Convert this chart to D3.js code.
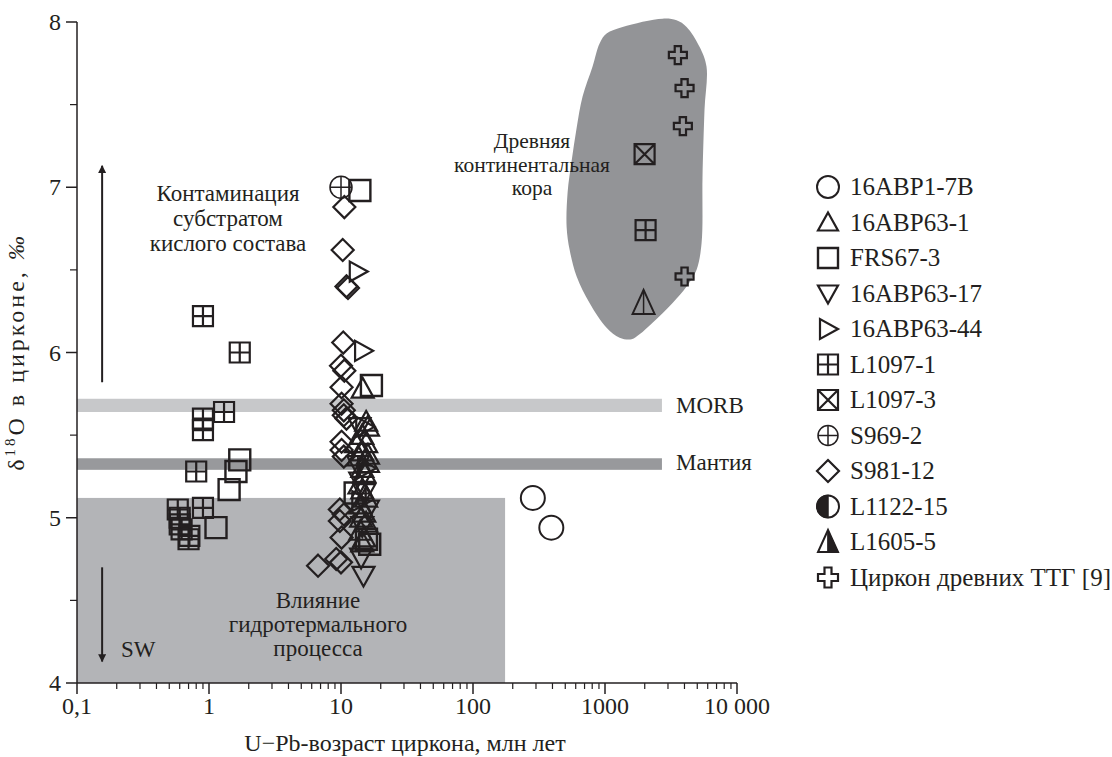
<!DOCTYPE html>
<html><head><meta charset="utf-8">
<script src="https://cdn.jsdelivr.net/npm/d3@7"></script>
<style>
body{margin:0;background:#fff;}
text{font-family:"Liberation Serif","DejaVu Serif",serif;fill:#231f20;}
</style></head>
<body><svg id="c" width="1112" height="757"></svg>
<script>
// ---- data ----
const xTicks = [0.1, 1, 10, 100, 1000, 10000];
const xTickLabels = ["0,1", "1", "10", "100", "1000", "10 000"];
const yTicks = [4, 5, 6, 7, 8];

const s16ABP1_7B = [[284, 5.12], [392, 4.94]];
const s16ABP63_1 = [[14.6,5.78],[15.5,5.58],[16,5.55],[14.5,5.50],[15.5,5.45],[13,5.45],[14.5,5.40],[13.5,5.37],[16,5.38],[16,5.33],[14.5,5.30],[15,5.27],[13.8,5.20],[14.5,5.17],[15.5,5.12],[14,5.08],[15,5.03],[14.2,5.00],[15.5,4.97],[14,4.92],[15,4.88],[14.5,4.85]];
const sFRS67_3 = [[1.71,5.35],[1.6,5.28],[1.42,5.17],[1.13,4.94],[13.9,6.98],[17,5.80],[12.8,5.15],[15.6,4.87],[16.5,4.84]];
const s16ABP63_17 = [[14.8,4.65],[14.2,4.76],[14,5.22],[15,5.15],[13.5,5.32],[16,5.05],[14.5,4.95],[13.8,5.55]];
const s16ABP63_44 = [[13.4,6.49],[14.7,6.01],[15,5.55],[15.5,5.30],[14,5.10]];
const sL1097_1 = [[0.90,6.22],[1.71,6.00],[1.30,5.64],[0.90,5.60],[0.90,5.53],[0.80,5.28],[0.58,5.05],[0.60,5.00],[0.60,4.96],[0.62,4.93],[0.90,5.06],[0.71,4.89],[0.70,4.87],[2030,6.74]];
const sL1097_3 = [[1995, 7.20]];
const sS969_2 = [[10, 7.0]];
const sS981_12 = [[10.6,6.88],[10.3,6.62],[11.3,6.39],[11.0,6.40],[10.4,6.06],[10,5.92],[10.6,5.89],[10.1,5.79],[10.1,5.69],[10.5,5.65],[10.5,5.62],[11,5.60],[10.1,5.46],[10.1,5.41],[10.5,5.37],[9.8,5.05],[10.5,5.02],[9.8,4.98],[10.1,4.88],[9.2,4.75],[10,4.73],[6.7,4.71]];
const sL1122_15 = [];
const sL1605_5 = [[1960, 6.30]];
const sTTG = [[3565,7.80],[4006,7.60],[3890,7.37],[4006,6.46]];

// fields
const hydroBox = {x0: 0.1, x1: 175, y0: 4, y1: 5.12};
const morbBand = {x0: 0.1, x1: 2700, y0: 5.64, y1: 5.72};
const mantleBand = {x0: 0.1, x1: 2700, y0: 5.29, y1: 5.36};
const crustBlob = [[2729,8.02],[1359,7.97],[1028,7.93],[910,7.87],[805,7.73],[677,7.55],[610,7.36],[559,7.16],[521,6.97],[512,6.76],[540,6.62],[610,6.46],[764,6.30],[1028,6.15],[1290,6.09],[1590,6.08],[1827,6.11],[2293,6.18],[3251,6.30],[4150,6.40],[4933,6.50],[5387,6.66],[5480,7.06],[5675,7.47],[5875,7.73],[5200,7.85],[4150,7.97],[3484,8.01]];

const legendNames = ["16ABP1-7B","16ABP63-1","FRS67-3","16ABP63-17","16ABP63-44","L1097-1","L1097-3","S969-2","S981-12","L1122-15","L1605-5","Циркон древних ТТГ [9]"];
const legendTypes = ["circle","triUp","square","triDown","triRight","gridSquare","xSquare","plusCircle","diamond","halfCircle","halfTri","cross"];
const seriesData = [s16ABP1_7B,s16ABP63_1,sFRS67_3,s16ABP63_17,s16ABP63_44,sL1097_1,sL1097_3,sS969_2,sS981_12,sL1122_15,sL1605_5,sTTG];

// ---- chart ----
const svg = d3.select("#c");
const x = d3.scaleLog().domain([0.1, 10000]).range([77, 737]);
const y = d3.scaleLinear().domain([4, 8]).range([683, 22]);
const ink = "#231f20";
const FS_TICK = 24, FS_TITLE = 24, FS_NOTE = 23, FS_LEG = 25;

function rect(b, fill){
  svg.append("rect").attr("x", x(b.x0)).attr("y", y(b.y1))
    .attr("width", x(b.x1)-x(b.x0)).attr("height", y(b.y0)-y(b.y1)).attr("fill", fill);
}
rect(hydroBox, "#b3b4b7");
rect(morbBand, "#c7c8ca");
rect(mantleBand, "#98999c");
svg.append("path").datum(crustBlob)
  .attr("d", d3.line().x(d=>x(d[0])).y(d=>y(d[1])).curve(d3.curveCatmullRomClosed))
  .attr("fill", "#939497");

// axes
const xAxis = svg.append("g").attr("transform","translate(0,683)");
xAxis.append("line").attr("x1",x(0.1)).attr("x2",x(10000)).attr("stroke",ink).attr("stroke-width",1.5);
const minorX = [];
for (let d = 0.1; d < 10000; d *= 10) for (let k = 2; k <= 9; k++) minorX.push(d*k);
xAxis.selectAll(".mx").data(minorX).enter().append("line")
  .attr("x1",d=>x(d)).attr("x2",d=>x(d)).attr("y1",0).attr("y2",6).attr("stroke",ink).attr("stroke-width",1.2);
xAxis.selectAll(".Mx").data(xTicks).enter().append("line")
  .attr("x1",d=>x(d)).attr("x2",d=>x(d)).attr("y1",0).attr("y2",11).attr("stroke",ink).attr("stroke-width",1.5);
xAxis.selectAll(".lx").data(xTicks).enter().append("text")
  .attr("x",d=>x(d)).attr("y",31).attr("text-anchor","middle").attr("font-size",FS_TICK)
  .text((d,i)=>xTickLabels[i]);

const yAxis = svg.append("g").attr("transform","translate(77,0)");
yAxis.append("line").attr("y1",y(4)).attr("y2",y(8)).attr("stroke",ink).attr("stroke-width",1.5);
const minorY = [4.5,5.5,6.5,7.5];
yAxis.selectAll(".my").data(minorY).enter().append("line")
  .attr("y1",d=>y(d)).attr("y2",d=>y(d)).attr("x1",0).attr("x2",-7).attr("stroke",ink).attr("stroke-width",1.2);
yAxis.selectAll(".My").data(yTicks).enter().append("line")
  .attr("y1",d=>y(d)).attr("y2",d=>y(d)).attr("x1",0).attr("x2",-11).attr("stroke",ink).attr("stroke-width",1.5);
yAxis.selectAll(".ly").data(yTicks).enter().append("text")
  .attr("x",-16).attr("y",d=>y(d)+8).attr("text-anchor","end").attr("font-size",FS_TICK).text(d=>d);

// axis titles
svg.append("text").attr("x",405).attr("y",751).attr("text-anchor","middle").attr("font-size",FS_TITLE)
  .text("U−Pb-возраст циркона, млн лет");
const yt = svg.append("text").attr("transform","translate(24,352) rotate(-90)").attr("text-anchor","middle")
  .attr("font-size",FS_TITLE).attr("letter-spacing",3);
yt.append("tspan").text("δ");
yt.append("tspan").attr("font-size",15).attr("dy",-9).text("18");
yt.append("tspan").attr("dy",9).text("O в цирконе, ");
yt.append("tspan").attr("font-style","italic").text("‰");

// arrows
svg.append("defs").append("marker").attr("id","ah").attr("viewBox","0 0 10 10").attr("refX",9).attr("refY",5)
  .attr("markerWidth",14).attr("markerHeight",8).attr("orient","auto").attr("markerUnits","userSpaceOnUse")
  .append("path").attr("d","M0,0 L10,5 L0,10 Z").attr("fill",ink);
function arrow(v0, v1){
  svg.append("line").attr("x1",x(0.155)).attr("x2",x(0.155)).attr("y1",y(v0)).attr("y2",y(v1))
    .attr("stroke",ink).attr("stroke-width",2).attr("marker-end","url(#ah)");
}
arrow(5.82, 7.13);
arrow(4.7, 4.13);

// annotations
function multi(lines, cx, y0, dy, fs){
  const t = svg.append("text").attr("text-anchor","middle").attr("font-size",fs||FS_NOTE);
  lines.forEach((l,i)=>t.append("tspan").attr("x",cx).attr("y",y0+i*dy).text(l));
}
multi(["Контаминация","субстратом","кислого состава"], 228, 201, 25);
multi(["Древняя","континентальная","кора"], 532, 148, 23.5, 21.5);
multi(["Влияние","гидротермального","процесса"], 318, 608, 24);
svg.append("text").attr("x",121).attr("y",657).attr("font-size",FS_NOTE).text("SW");
svg.append("text").attr("x",676).attr("y",413).attr("font-size",FS_NOTE).text("MORB");
svg.append("text").attr("x",676).attr("y",470).attr("font-size",FS_NOTE).text("Мантия");

// symbols
function drawSymbol(g, type, s, legend){
  const h = s/2;
  const st = {stroke: ink, "stroke-width": 2, fill: "none"};
  const P = (d, extra) => { const p = g.append("path").attr("d", d); Object.entries(Object.assign({}, st, extra||{})).forEach(([k,v])=>p.attr(k,v)); return p; };
  switch(type){
    case "circle": P(d3.arc()({innerRadius:0,outerRadius:h+1,startAngle:0,endAngle:2*Math.PI})); break;
    case "square": P(`M${-h},${-h}H${h}V${h}H${-h}Z`, {"stroke-width":2.4}); break;
    case "gridSquare": P(`M${-h},${-h}H${h}V${h}H${-h}ZM0,${-h}V${h}M${-h},0H${h}`, {"stroke-width":2.2}); break;
    case "xSquare": P(`M${-h},${-h}H${h}V${h}H${-h}ZM${-h},${-h}L${h},${h}M${h},${-h}L${-h},${h}`, {"stroke-width":2.2}); break;
    case "plusCircle": P(`M${-h},0H${h}M0,${-h}V${h}`, {"stroke-width":1.5}); P(d3.arc()({innerRadius:0,outerRadius:h,startAngle:0,endAngle:2*Math.PI}),{"stroke-width":1.5}); break;
    case "diamond": P(`M0,${-h-1}L${h+1},0L0,${h+1}L${-h-1},0Z`, {"stroke-width":2.2}); break;
    case "triUp": P(`M0,${-h}L${h},${h*0.8}L${-h},${h*0.8}Z`, {"stroke-width":2.2}); break;
    case "triDown": P(`M0,${h}L${h},${-h*0.8}L${-h},${-h*0.8}Z`, {"stroke-width":2.2}); break;
    case "triRight": P(`M${h},0L${-h*0.8},${h}L${-h*0.8},${-h}Z`, {"stroke-width":2.2}); break;
    case "halfCircle":
      P(d3.arc()({innerRadius:0,outerRadius:h+1,startAngle:Math.PI,endAngle:2*Math.PI}), {fill: ink, "stroke-width":1.5});
      P(d3.arc()({innerRadius:0,outerRadius:h+1,startAngle:0,endAngle:2*Math.PI}), {"stroke-width":2}); break;
    case "halfTri":
      if (legend) P(`M0,${-h-2}L${h},${h}L0,${h}Z`, {fill: ink, "stroke-width":1});
      P(`M0,${-h-2}L${h},${h}L${-h},${h}Z`, {"stroke-width":2});
      P(`M0,${-h-2}V${h}`, {"stroke-width":1.5}); break;
    case "cross": {
      const a = h*0.35;
      P(`M${-a},${-h}H${a}V${-a}H${h}V${a}H${a}V${h}H${-a}V${a}H${-h}V${-a}H${-a}Z`, {"stroke-width":2.2}); break;
    }
  }
}
const sizes = {circle:22, square:21, gridSquare:20, xSquare:20, plusCircle:22, diamond:20, triUp:22, triDown:22, triRight:20, halfCircle:22, halfTri:22, cross:18};
const plotG = svg.append("g");
seriesData.forEach((arr, i) => {
  const type = legendTypes[i];
  arr.forEach(d => {
    const g = plotG.append("g").attr("transform", `translate(${x(d[0])},${y(d[1])})`);
    drawSymbol(g, type, sizes[type], false);
  });
});

// legend
const legY0 = 187, legDy = 35.5;
legendNames.forEach((name, i) => {
  const g = svg.append("g").attr("transform", `translate(828,${legY0 + i*legDy})`);
  drawSymbol(g, legendTypes[i], 20, true);
  svg.append("text").attr("x", 850).attr("y", legY0 + i*legDy + 8).attr("font-size",FS_LEG).text(name);
});
</script></body></html>
